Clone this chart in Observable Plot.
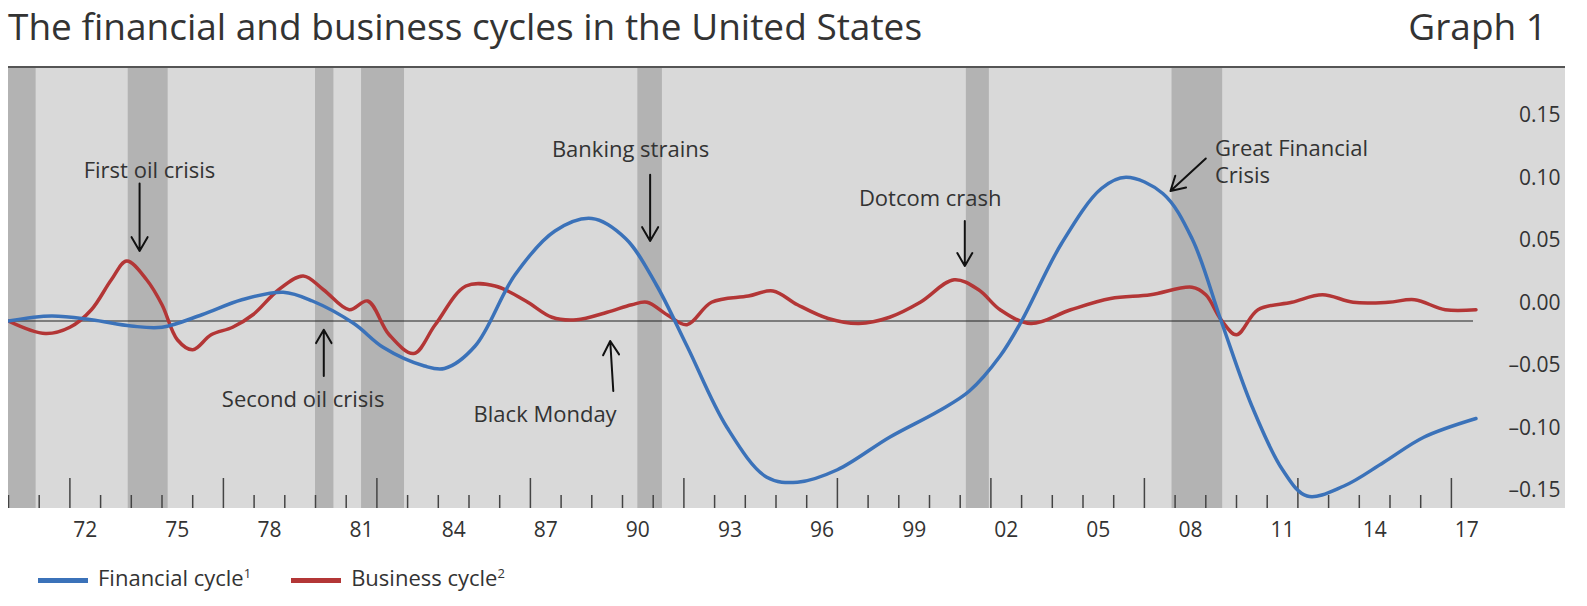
<!DOCTYPE html>
<html><head><meta charset="utf-8">
<script src="https://cdn.jsdelivr.net/npm/d3@7"></script>
<script src="https://cdn.jsdelivr.net/npm/@observablehq/plot@0.6"></script>
<style>
body{margin:0;background:#fff;font-family:"Open Sans",sans-serif;color:#333;}
#wrap{position:relative;width:1587px;height:606px;}
#title{position:absolute;left:8px;top:0px;font-size:37px;color:#333;}
#g1{position:absolute;right:40px;top:0px;font-size:37px;color:#333;}
#rule{position:absolute;left:8px;top:66px;width:1557px;height:2px;background:#555;}
#bg{position:absolute;left:8px;top:68px;width:1557px;height:440px;background:#d9d9d9;}
#chart{position:absolute;left:8px;top:68px;}
#legend{position:absolute;left:38px;top:562px;font-size:22px;color:#333;display:flex;gap:40px;align-items:center;}
.sw{display:inline-block;width:50px;height:5px;vertical-align:middle;margin-right:10px;}
</style></head><body>
<div id="wrap">
<div id="title">The financial and business cycles in the United States</div>
<div id="g1">Graph 1</div>
<div id="bg"></div>
<div id="rule"></div>
<div id="chart"></div>
<div id="legend"><span><span class="sw" style="background:#3b72b9"></span>Financial cycle<sup style="font-size:13px">1</sup></span><span><span class="sw" style="background:#b33636"></span>Business cycle<sup style="font-size:13px">2</sup></span></div>
</div>
<script>
const finYears=[1970.0,1971.4,1972.7,1974.0,1975.0,1976.3,1977.6,1978.95,1979.9,1981.25,1982.2,1983.55,1984.2,1985.2,1986.5,1987.8,1989.0,1990.1,1991.1,1992.1,1993.4,1994.7,1995.7,1997.0,1998.7,2000.3,2001.3,2002.3,2003.0,2004.3,2005.6,2006.4,2007.6,2008.55,2009.5,2010.5,2011.5,2012.3,2013.5,2014.8,2016.1,2017.8];
const finValues=[0,0.004,0.001,-0.004,-0.005,0.005,0.017,0.023,0.016,-0.002,-0.021,-0.036,-0.038,-0.020,0.037,0.072,0.082,0.066,0.029,-0.020,-0.085,-0.125,-0.129,-0.119,-0.093,-0.072,-0.056,-0.028,0,0.062,0.106,0.115,0.102,0.066,0,-0.068,-0.119,-0.140,-0.132,-0.113,-0.093,-0.078];
const busYears=[1970.0,1971.2,1972.0,1972.7,1973.35,1973.85,1974.5,1975.0,1975.5,1976.0,1976.6,1977.3,1977.96,1978.8,1979.6,1980.26,1981.1,1981.7,1982.4,1983.2,1983.9,1984.9,1985.85,1986.85,1987.7,1988.5,1989.5,1990.3,1990.8,1991.45,1992.1,1992.9,1994.1,1994.9,1995.7,1996.7,1997.7,1998.7,1999.7,2000.8,2001.6,2002.3,2003.3,2004.6,2005.9,2007.2,2008.55,2009.0,2009.5,2010.0,2010.7,2011.8,2012.8,2013.8,2014.95,2015.8,2016.8,2017.8];
const busValues=[0,-0.010,-0.005,0.009,0.033,0.048,0.033,0.013,-0.015,-0.023,-0.011,-0.005,0.005,0.025,0.036,0.025,0.009,0.016,-0.011,-0.026,-0.003,0.028,0.028,0.016,0.003,0.001,0.007,0.013,0.015,0.005,-0.003,0.015,0.020,0.024,0.013,0.002,-0.002,0.003,0.015,0.033,0.025,0.009,-0.002,0.009,0.018,0.021,0.027,0.021,0.001,-0.011,0.009,0.015,0.021,0.015,0.015,0.017,0.009,0.009];
const recStart=[1970.0,1973.9,1980.0,1981.5,1990.5,2001.2,2007.9];
const recEnd=[1970.9,1975.2,1980.6,1982.9,1991.3,2001.95,2009.55];
const xLabelYears=[1972,1975,1978,1981,1984,1987,1990,1993,1996,1999,2002,2005,2008,2011,2014,2017];
const yTicks=[-0.15,-0.10,-0.05,0,0.05,0.10,0.15];
const annText=["First oil crisis","Second oil crisis","Black Monday","Banking strains","Dotcom crash","Great Financial","Crisis"];
const annX=[1972.45,1976.95,1985.15,1987.7,1997.7,2009.3,2009.3];
const annY=[0.120,-0.063,-0.075,0.137,0.098,0.138,0.116];
const arrX1=[1974.27,1980.27,1989.7,1990.9,2001.15,2009.0];
const arrY1=[0.110,-0.044,-0.056,0.117,0.080,0.130];
const arrX2=[1974.27,1980.27,1989.6,1990.9,2001.15,2007.85];
const arrY2=[0.056,-0.007,-0.016,0.064,0.044,0.104];

const fin=finYears.map((x,i)=>({x,y:finValues[i]}));
const bus=busYears.map((x,i)=>({x,y:busValues[i]}));
const rec=recStart.map((s,i)=>({s,e:recEnd[i]}));
const ann=annText.map((t,i)=>({t,x:annX[i],y:annY[i]}));
const arr=arrX1.map((x1,i)=>({x1,y1:arrY1[i],x2:arrX2[i],y2:arrY2[i]}));
const allYears=d3.range(1970,2018);
const fmt=d=>(d<0?"\u2013":"")+Math.abs(d).toFixed(2);
const H=440, pxY=1250;

const plot=Plot.plot({
  width:1557,height:H+50,marginLeft:0,marginRight:92,marginTop:0,marginBottom:50,
  style:{background:"transparent",fontFamily:"Open Sans",color:"#333"},
  x:{domain:[1970,1970+1465/30.7]},
  y:{domain:[-0.15,-0.15+H/pxY]},
  marks:[
    Plot.rectX(rec,{x1:"s",x2:"e",y1:-0.15,y2:-0.15+H/pxY,fill:"#b3b3b3"}),
    Plot.ruleX(allYears.filter(y=>(y-1972)%5!==0),{x:d=>d,y1:-0.15,y2:-0.15+13/pxY,stroke:"#444",strokeWidth:1.5}),
    Plot.ruleX(allYears.filter(y=>(y-1972)%5===0),{x:d=>d,y1:-0.15,y2:-0.15+30/pxY,stroke:"#444",strokeWidth:1.5}),
    Plot.ruleY([0],{stroke:"#222",strokeWidth:1.2}),
    Plot.line(bus,{x:"x",y:"y",stroke:"#b33636",strokeWidth:3.5,curve:"catmull-rom"}),
    Plot.line(fin,{x:"x",y:"y",stroke:"#3b72b9",strokeWidth:3.5,curve:"catmull-rom"}),
    Plot.arrow(arr,{x1:"x1",y1:"y1",x2:"x2",y2:"y2",stroke:"#111",strokeWidth:2,headLength:12}),
    Plot.text(ann,{x:"x",y:"y",text:"t",textAnchor:"start",fontSize:22,fill:"#333"}),
    Plot.axisX(xLabelYears.map(d=>d+0.5),{tickSize:0,tickPadding:14,fontSize:21,tickFormat:d=>String(Math.floor(d)%100).padStart(2,"0")}),
    Plot.axisY(yTicks,{anchor:"right",tickSize:0,textAnchor:"end",dx:78,dy:-18,fontSize:21,tickFormat:fmt,label:null})
  ]
});
document.getElementById("chart").append(plot);
</script>
</body></html>
